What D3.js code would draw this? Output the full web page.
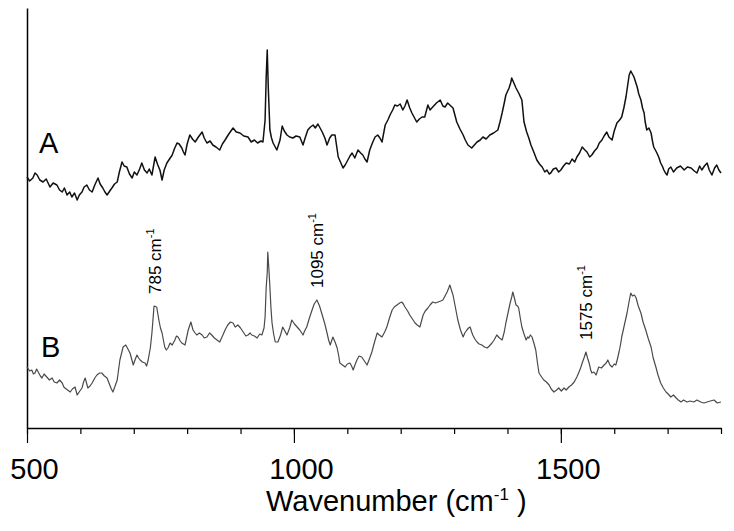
<!DOCTYPE html>
<html>
<head>
<meta charset="utf-8">
<script src="https://cdn.jsdelivr.net/npm/d3@7"></script>
<style>
  body { margin: 0; background: #fff; }
  svg { display: block; }
  text { font-family: "Liberation Sans", Arial, Helvetica, sans-serif; fill: #000; }
</style>
</head>
<body>
<svg id="chart"></svg>
<script>
// spectrum A: [wavenumber, intensity (a.u.)]
var specA = [[500,251],[505,247],[511,250],[515,255],[519,253],[524,248],[530,246],[536,249],[543,241],[549,245],[556,243],[561,238],[566,236],[570,240],[575,233],[580,236],[584,231],[589,235],[594,228],[598,233],[603,236],[607,241],[612,243],[617,238],[622,236],[627,243],[633,250],[637,244],[642,240],[646,236],[650,233],[655,237],[659,240],[664,244],[669,246],[673,256],[678,266],[682,262],[687,261],[692,254],[697,250],[701,256],[706,253],[711,259],[715,265],[720,258],[725,255],[729,259],[734,253],[737,262],[740,271],[745,263],[749,258],[753,248],[757,258],[762,265],[767,269],[772,273],[776,279],[781,285],[785,284],[790,280],[793,276],[796,273],[800,284],[805,293],[810,289],[815,286],[821,291],[828,296],[832,290],[837,285],[843,287],[848,283],[854,281],[861,278],[866,284],[871,288],[878,294],[886,300],[892,296],[899,295],[906,292],[914,291],[920,286],[926,288],[932,285],[938,287],[942,286],[946,308],[948,350],[950,378],[952,340],[955,298],[958,290],[961,285],[968,278],[971,283],[974,288],[978,302],[982,297],[987,293],[992,291],[998,290],[1004,292],[1011,291],[1017,283],[1021,290],[1026,298],[1031,301],[1036,303],[1040,300],[1045,304],[1049,300],[1053,296],[1058,290],[1062,283],[1067,290],[1071,293],[1077,293],[1080,282],[1083,271],[1088,265],[1092,260],[1096,263],[1101,268],[1105,272],[1109,275],[1114,270],[1120,278],[1125,275],[1129,273],[1133,269],[1137,266],[1142,278],[1147,285],[1152,291],[1157,293],[1161,290],[1165,286],[1171,303],[1176,308],[1180,313],[1185,318],[1189,323],[1194,322],[1199,324],[1204,318],[1208,322],[1212,328],[1217,320],[1221,315],[1226,310],[1230,306],[1235,309],[1240,311],[1245,311],[1251,323],[1255,318],[1260,321],[1267,325],[1274,328],[1279,322],[1283,321],[1288,325],[1292,323],[1298,320],[1305,306],[1311,299],[1317,293],[1321,288],[1326,283],[1333,280],[1338,283],[1343,286],[1349,288],[1354,291],[1360,289],[1367,293],[1374,295],[1382,298],[1386,306],[1390,315],[1394,325],[1397,333],[1403,340],[1406,345],[1408,350],[1412,345],[1416,340],[1421,335],[1427,328],[1431,306],[1436,296],[1440,290],[1444,283],[1450,275],[1455,268],[1460,264],[1465,261],[1470,256],[1474,258],[1478,254],[1481,255],[1486,259],[1491,260],[1496,256],[1500,258],[1505,262],[1510,265],[1516,264],[1521,269],[1526,266],[1530,271],[1535,275],[1540,281],[1545,278],[1549,276],[1554,271],[1558,273],[1563,277],[1568,280],[1572,285],[1577,288],[1581,292],[1586,296],[1590,291],[1596,288],[1600,297],[1605,305],[1610,308],[1614,311],[1618,320],[1622,331],[1625,342],[1628,353],[1631,357],[1634,354],[1637,351],[1640,346],[1643,341],[1646,334],[1650,328],[1653,320],[1656,315],[1658,306],[1661,298],[1665,300],[1669,295],[1672,286],[1674,281],[1677,278],[1680,275],[1684,270],[1687,265],[1690,262],[1693,258],[1696,255],[1699,253],[1702,259],[1706,261],[1711,256],[1717,260],[1724,262],[1731,258],[1737,261],[1744,260],[1750,257],[1755,255],[1760,262],[1764,258],[1769,262],[1774,265],[1778,258],[1783,253],[1788,260],[1792,263],[1796,258],[1800,255]];

// spectrum B: [wavenumber, intensity (a.u.)]
var specB = [[500,61],[505,57],[509,58],[512,54],[515,55],[518,59],[521,56],[525,52],[528,50],[532,54],[537,51],[542,48],[547,50],[551,46],[556,45],[561,48],[566,45],[569,41],[571,40],[576,38],[581,36],[585,39],[590,41],[594,33],[599,37],[603,40],[606,46],[609,50],[612,44],[614,40],[618,42],[622,45],[627,50],[631,53],[636,55],[640,55],[645,52],[650,50],[655,43],[658,39],[661,36],[665,42],[669,48],[674,68],[680,81],[685,83],[689,79],[693,75],[699,63],[703,69],[706,73],[709,70],[712,68],[716,66],[721,65],[724,62],[727,68],[731,80],[734,95],[738,122],[743,121],[747,108],[750,100],[753,95],[758,81],[761,78],[764,80],[768,85],[772,83],[777,88],[780,92],[783,91],[787,87],[790,85],[796,83],[802,98],[807,106],[811,98],[815,95],[818,93],[823,95],[828,93],[832,90],[837,91],[842,95],[846,93],[851,90],[856,88],[861,86],[867,93],[871,98],[876,103],[881,106],[886,105],[890,101],[895,103],[900,100],[905,96],[910,92],[914,93],[918,95],[921,93],[926,92],[931,90],[936,94],[940,93],[944,100],[946,111],[948,140],[950,155],[951,176],[953,160],[955,141],[957,120],[959,105],[962,94],[965,86],[970,86],[975,93],[979,101],[983,97],[987,93],[992,100],[996,108],[1001,104],[1006,101],[1011,98],[1017,93],[1020,97],[1024,101],[1029,110],[1034,118],[1038,124],[1043,128],[1048,122],[1053,113],[1058,104],[1062,95],[1065,88],[1068,83],[1073,91],[1077,86],[1081,80],[1084,72],[1086,65],[1091,63],[1096,61],[1100,64],[1105,65],[1108,62],[1111,58],[1115,64],[1118,68],[1122,72],[1127,71],[1132,67],[1137,63],[1142,70],[1146,76],[1151,86],[1156,95],[1160,93],[1165,91],[1170,96],[1174,101],[1179,110],[1184,118],[1188,121],[1193,123],[1198,125],[1202,126],[1205,124],[1208,121],[1213,117],[1217,113],[1222,109],[1227,105],[1231,103],[1236,101],[1239,107],[1242,113],[1246,117],[1251,120],[1255,123],[1260,126],[1265,125],[1270,126],[1275,127],[1279,128],[1283,132],[1287,136],[1290,140],[1292,143],[1295,138],[1298,133],[1302,122],[1307,108],[1312,98],[1317,91],[1320,95],[1324,98],[1327,100],[1330,101],[1333,96],[1335,93],[1339,89],[1343,86],[1347,84],[1352,83],[1357,81],[1362,80],[1366,82],[1371,85],[1375,88],[1380,93],[1385,90],[1390,88],[1394,96],[1397,105],[1401,115],[1405,125],[1408,131],[1410,136],[1413,130],[1416,123],[1419,122],[1421,120],[1424,110],[1427,101],[1431,94],[1435,88],[1438,91],[1440,90],[1443,93],[1446,91],[1450,84],[1453,78],[1456,66],[1459,55],[1464,51],[1468,48],[1473,46],[1478,43],[1482,39],[1487,36],[1492,38],[1496,40],[1501,37],[1506,40],[1510,38],[1515,41],[1520,43],[1525,46],[1530,51],[1534,56],[1537,60],[1540,65],[1544,71],[1547,76],[1550,70],[1553,65],[1556,58],[1558,55],[1562,56],[1566,53],[1571,61],[1576,60],[1581,63],[1585,65],[1588,68],[1592,63],[1596,61],[1600,64],[1603,63],[1606,69],[1609,76],[1612,84],[1614,91],[1619,103],[1624,115],[1628,127],[1631,135],[1634,132],[1638,133],[1641,130],[1645,122],[1650,115],[1654,106],[1659,98],[1664,89],[1669,81],[1673,70],[1678,61],[1682,53],[1687,45],[1692,40],[1697,36],[1701,34],[1706,31],[1711,33],[1716,30],[1720,28],[1725,26],[1730,28],[1736,26],[1742,27],[1749,26],[1755,28],[1762,26],[1768,25],[1774,26],[1780,27],[1787,28],[1793,25],[1800,26]];

var seriesNames = ["A", "B"];
var minorTicks = [500, 600, 700, 800, 900, 1000, 1100, 1200, 1300, 1400, 1500, 1600, 1700, 1800];
var majorTicks = [500, 1000, 1500];
var peakPos = [740, 1043, 1547];
var peakText = ["785", "1095", "1575"];

var w = 734, h = 531;
var svg = d3.select("#chart")
    .attr("width", w)
    .attr("height", h)
    .attr("font-family", "'Liberation Sans', Arial, Helvetica, sans-serif");

var x = d3.scaleLinear().domain([500, 1800]).range([27, 721]);
var y = d3.scaleLinear().domain([0, 420]).range([428, 8]);

// y axis: just the line
svg.append("g")
    .attr("transform", "translate(27,0)")
    .call(d3.axisLeft(y).tickValues([]).tickSizeOuter(0))
    .call(g => g.select(".domain").attr("stroke", "#000").attr("stroke-width", 1.5));

// small ticks every 100
svg.append("g")
    .attr("transform", "translate(0,428)")
    .call(d3.axisBottom(x).tickValues(minorTicks).tickSize(6).tickSizeOuter(0).tickFormat(""))
    .call(g => g.select(".domain").attr("stroke", "#000").attr("stroke-width", 1.5))
    .call(g => g.selectAll(".tick line").attr("stroke", "#000").attr("stroke-width", 1.2));

// long labelled ticks
svg.append("g")
    .attr("transform", "translate(0,428)")
    .call(d3.axisBottom(x).tickValues(majorTicks).tickSize(15).tickFormat(d3.format("d")))
    .call(g => g.select(".domain").remove())
    .call(g => g.selectAll(".tick line").attr("stroke", "#000").attr("stroke-width", 1.2))
    .call(g => g.selectAll(".tick text")
        .attr("y", 51).attr("dy", 0).attr("dx", 7)
        .attr("font-size", 29)
        .attr("font-family", "'Liberation Sans', Arial, Helvetica, sans-serif")
        .attr("fill", "#000"));

// axis title
var title = svg.append("text")
    .attr("x", 266).attr("y", 511)
    .attr("font-size", 29);
title.append("tspan").text("Wavenumber (cm");
title.append("tspan").attr("dy", -11).attr("font-size", 17).text("-1");
title.append("tspan").attr("dy", 11).text(" )");

var line = d3.line()
    .x(d => x(d[0]))
    .y(d => y(d[1]));

svg.append("path")
    .datum(specA)
    .attr("fill", "none")
    .attr("stroke", "#111")
    .attr("stroke-width", 1.5)
    .attr("stroke-linejoin", "round")
    .attr("d", line);

svg.append("path")
    .datum(specB)
    .attr("fill", "none")
    .attr("stroke", "#4a4a4a")
    .attr("stroke-width", 1.2)
    .attr("stroke-linejoin", "round")
    .attr("d", line);

// series letters
svg.selectAll(".series-label")
    .data(seriesNames)
    .join("text")
    .attr("class", "series-label")
    .attr("x", (d, i) => i == 0 ? 39 : 41)
    .attr("y", (d, i) => i == 0 ? 153 : 357)
    .attr("font-size", 29)
    .text(d => d);

// peak annotations on B, rotated
peakPos.forEach(function (p, i) {
    var near = specB.filter(d => Math.abs(d[0] - p) <= 6);
    var top = d3.max(near, d => d[1]);
    var t = svg.append("text")
        .attr("transform", "translate(" + (x(p) + 6) + "," + (y(top) - 12) + ") rotate(-90)")
        .attr("font-size", 17);
    t.append("tspan").text(peakText[i] + " cm");
    t.append("tspan").attr("dy", -7).attr("font-size", 11).text("-1");
});
</script>
</body>
</html>
